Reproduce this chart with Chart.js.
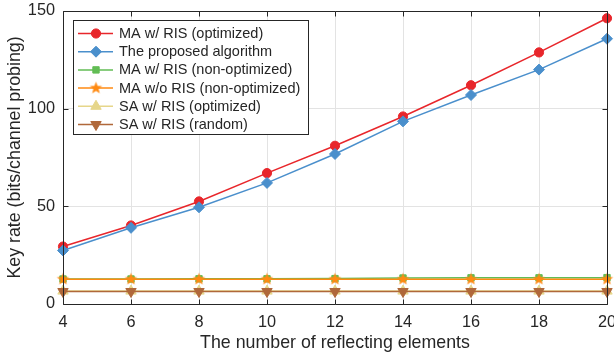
<!DOCTYPE html>
<html><head>
<meta charset="utf-8">
<script src="https://cdn.jsdelivr.net/npm/chart.js@4.4.1/dist/chart.umd.min.js"></script>
<style>html,body{margin:0;padding:0;background:#fff}</style>
</head><body>
<canvas id="c" width="614" height="360"></canvas>
<script>
const elements = [4, 6, 8, 10, 12, 14, 16, 18, 20];
const maRisOptimized = [29.4, 40.2, 52.5, 67.0, 81.0, 96.0, 112.0, 128.8, 146.3];
const proposedAlgorithm = [27.4, 39.0, 49.5, 62.0, 76.8, 93.5, 107.0, 120.0, 135.8];
const maRisNonOptimized = [12.8, 12.8, 12.9, 12.9, 13.0, 13.3, 13.4, 13.4, 13.5];
const maNoRisNonOptimized = [12.7, 12.7, 12.7, 12.7, 12.7, 12.7, 12.7, 12.7, 12.7];
const saRisOptimized = [6.6, 6.6, 6.6, 6.6, 6.6, 6.6, 6.6, 6.6, 6.6];
const saRisRandom = [6.4, 6.4, 6.4, 6.4, 6.4, 6.4, 6.4, 6.4, 6.4];
const seriesLabels = ['MA w/ RIS (optimized)', 'The proposed algorithm', 'MA w/ RIS (non-optimized)', 'MA w/o RIS (non-optimized)', 'SA w/ RIS (optimized)', 'SA w/ RIS (random)'];
const xTicks = [4, 6, 8, 10, 12, 14, 16, 18, 20];
const yTicks = [0, 50, 100, 150];

const FONT = '"Liberation Sans", Arial, Helvetica, sans-serif';

function pentagram(color, r) {
  const c = document.createElement('canvas');
  const s = Math.ceil(r * 2 + 2);
  c.width = s; c.height = s;
  const g = c.getContext('2d');
  const cx = s / 2, cy = s / 2, ri = r * 0.42;
  g.beginPath();
  for (let i = 0; i < 10; i++) {
    const rr = i % 2 === 0 ? r : ri;
    const a = -Math.PI / 2 + i * Math.PI / 5;
    const px = cx + rr * Math.cos(a), py = cy + rr * Math.sin(a);
    if (i === 0) g.moveTo(px, py); else g.lineTo(px, py);
  }
  g.closePath();
  g.fillStyle = color; g.fill();
  return c;
}

const colors = ['#E8262B', '#4A8FCC', '#62BD55', '#FF8A12', '#E6D68A', '#B0683A'];
const styles = [
  {pointStyle: 'circle', radius: 4.6, rotation: 0},
  {pointStyle: 'rectRot', radius: 5.5, rotation: 0},
  {pointStyle: 'rect', radius: 4.5, rotation: 0},
  {pointStyle: pentagram(colors[3], 6.5), radius: 6, rotation: 0},
  {pointStyle: 'triangle', radius: 6, rotation: 0},
  {pointStyle: 'triangle', radius: 6, rotation: 180}
];
const seriesData = [maRisOptimized, proposedAlgorithm, maRisNonOptimized, maNoRisNonOptimized, saRisOptimized, saRisRandom];

const datasets = seriesData.map((vals, i) => ({
  label: seriesLabels[i],
  data: elements.map((x, k) => ({x: x, y: vals[k]})),
  borderColor: colors[i],
  backgroundColor: colors[i],
  borderWidth: 1.5,
  pointStyle: styles[i].pointStyle,
  pointRadius: styles[i].radius,
  pointRotation: styles[i].rotation,
  pointBorderWidth: 1,
  pointBackgroundColor: colors[i],
  pointBorderColor: colors[i],
  tension: 0,
  clip: false,
  order: 6 - i
}));

const AX = '#262626';
const frame = {
  id: 'frame',
  afterDatasetsDraw(chart) {
    const {ctx, chartArea: a, scales} = chart;
    ctx.save();
    ctx.strokeStyle = AX; ctx.lineWidth = 1;
    ctx.beginPath();
    const L = Math.round(a.left) + 0.5, R = Math.round(a.right) + 0.5, T = Math.round(a.top) + 0.5, B = Math.round(a.bottom) + 0.5;
    ctx.rect(L, T, R - L, B - T);
    xTicks.forEach(v => {
      const px = Math.round(scales.x.getPixelForValue(v)) + 0.5;
      ctx.moveTo(px, B); ctx.lineTo(px, B - 5);
      ctx.moveTo(px, T); ctx.lineTo(px, T + 5);
    });
    yTicks.forEach(v => {
      const py = Math.round(scales.y.getPixelForValue(v)) + 0.5;
      ctx.moveTo(L, py); ctx.lineTo(L + 5, py);
      ctx.moveTo(R, py); ctx.lineTo(R - 5, py);
    });
    ctx.stroke();
    ctx.restore();
  },
  afterDraw(chart) {
    const {ctx} = chart;
    ctx.save();
    const bx = 73.5, by = 20.5, bw = 235, bh = 114;
    ctx.fillStyle = '#fff';
    ctx.fillRect(bx, by, bw, bh);
    ctx.strokeStyle = AX; ctx.lineWidth = 1;
    ctx.strokeRect(bx, by, bw, bh);
    ctx.font = '14.5px ' + FONT;
    ctx.textBaseline = 'middle';
    ctx.textAlign = 'left';
    chart.data.datasets.forEach((ds, i) => {
      const y = 33.5 + i * 18.2;
      ctx.strokeStyle = ds.borderColor; ctx.lineWidth = 1.5;
      ctx.beginPath(); ctx.moveTo(78, y); ctx.lineTo(113, y); ctx.stroke();
      ctx.fillStyle = ds.pointBackgroundColor; ctx.strokeStyle = ds.pointBorderColor; ctx.lineWidth = 1;
      Chart.helpers.drawPoint(ctx, {
        pointStyle: ds.pointStyle, radius: ds.pointRadius, rotation: ds.pointRotation, borderWidth: 1
      }, 96, y);
      ctx.fillStyle = '#262626';
      ctx.fillText(ds.label, 119, y + 0.5);
    });
    ctx.restore();
  }
};

new Chart(document.getElementById('c'), {
  type: 'line',
  data: {datasets},
  options: {
    responsive: false,
    animation: false,
    devicePixelRatio: 1,
    layout: {padding: {left: 0, right: 7, top: 11, bottom: 0}},
    plugins: {legend: {display: false}, tooltip: {enabled: false}},
    scales: {
      x: {
        type: 'linear', min: 4, max: 20,
        afterBuildTicks: s => { s.ticks = xTicks.map(v => ({value: v})); },
        afterFit: s => { s.height = 56; s.paddingLeft = 0; s.paddingRight = 0; },
        grid: {color: '#e3e3e3', drawTicks: false, lineWidth: 1},
        border: {display: false},
        ticks: {color: '#262626', font: {size: 16.3, family: FONT}, padding: 9, maxRotation: 0},
        title: {display: true, text: 'The number of reflecting elements', color: '#262626', font: {size: 17.8, family: FONT}, padding: {top: 0, bottom: 6}}
      },
      y: {
        type: 'linear', min: 0, max: 150,
        afterBuildTicks: s => { s.ticks = yTicks.map(v => ({value: v})); },
        afterFit: s => { s.width = 63; s.paddingTop = 0; s.paddingBottom = 0; },
        grid: {color: '#e3e3e3', drawTicks: false, lineWidth: 1},
        border: {display: false},
        ticks: {color: '#262626', font: {size: 16.3, family: FONT}, padding: 8},
        title: {display: true, text: 'Key rate (bits/channel probing)', color: '#262626', font: {size: 17.8, family: FONT}, padding: {top: 4, bottom: 0}}
      }
    }
  },
  plugins: [frame]
});
</script>
</body></html>
